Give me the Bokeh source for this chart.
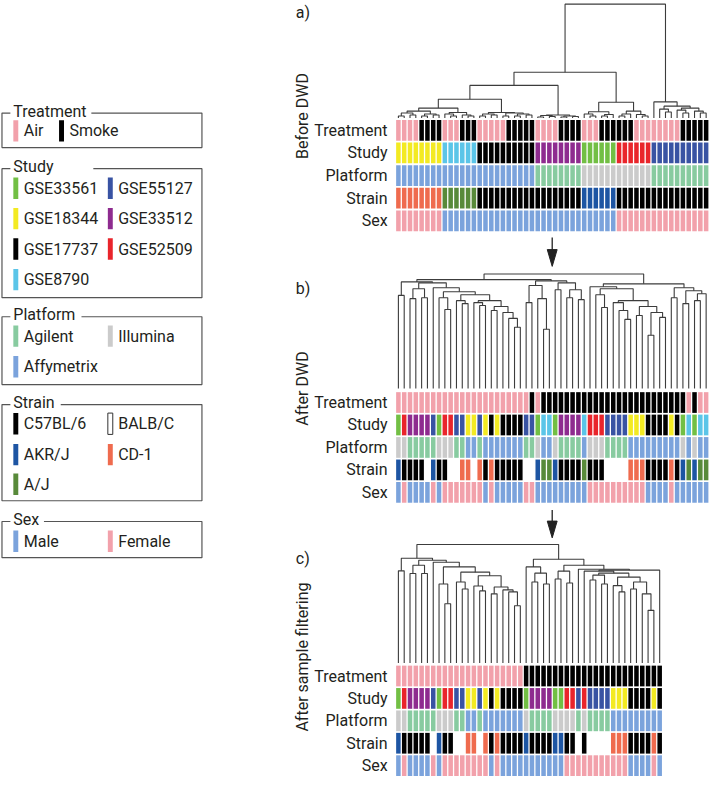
import math
from bokeh.plotting import figure
from bokeh.models import Range1d
from bokeh.embed import file_html
from bokeh.resources import INLINE
from bokeh.core.properties import value

FONT = value("Roboto")
TXT = "#231F20"
LINE = "#3C3C3C"

# ------------------------------------------------------------ categories
TREATMENT = [("A", "Air", "#F2A1AB"), ("S", "Smoke", "#000000")]
STUDY = [("G", "GSE33561", "#72BF44"), ("B", "GSE55127", "#3953A3"),
         ("Y", "GSE18344", "#F3EA22"), ("P", "GSE33512", "#8E2B8F"),
         ("K", "GSE17737", "#000000"), ("R", "GSE52509", "#E9252B"),
         ("C", "GSE8790", "#5BC5E8")]
PLATFORM = [("g", "Agilent", "#88CBA0"), ("i", "Illumina", "#CBCBCB"),
            ("f", "Affymetrix", "#7BA3DC")]
STRAIN = [("k", "C57BL/6", "#000000"), ("w", "BALB/C", "#FFFFFF"),
          ("a", "AKR/J", "#1D55A3"), ("o", "CD-1", "#EF6B4E"),
          ("j", "A/J", "#588A3A")]
SEX = [("m", "Male", "#7BA3DC"), ("f", "Female", "#F2A1AB")]

# ------------------------------------------------------------ panel a: before DWD (54 samples)
treat_a = "AAAASSSS" "AAASSS" "AAAAASSSSS" "AAAASSSS" "AAASSS" "SSSAAA" "AAAAASSSSS"
study_a = "YYYYYYYY" "CCCCCC" "KKKKKKKKKK" "PPPPPPPP" "GGGGGG" "RRRRRR" "BBBBBBBBBB"
platform_a = "ffffffff" "ffffff" "ffffffffff" "gggggggg" "iiiiii" "iiiiii" "gggggggggg"
strain_a = "oooooooo" "jjjjjj" "kkkkkkkkkk" "kkkkkkkk" "aaaaaa" "kkkkkk" "kkkkkkkkkk"
sex_a = "ffffffff" "mmmmmm" "mmmmmmmmmm" "mmmmmmmm" "mmmmmm" "ffffff" "ffffffffff"

# ------------------------------------------------------------ panel b: after DWD (54 samples)
treat_b = "AAAAAAAAAAAAAAAAAAAAAAA" "S" "A" "SSSSSSSSSSSSSSSSSSSSSSSSS" "A" "S" "AA"
study_b = "GRPPPPBGRR" "BBYYBYKYKK" "KKBBGCCGPP" "PPCRRRBBBB" "YYYKKKKYKG" "CGCC"
platform_b = "iigggggiii" "ggffgfffff" "ffggiffigg" "ggfiiigggg" "fffffffffi" "fiff"
strain_b = "akkkkwakkw" "woowokokkk" "kkwwajjakk" "kkjkkkwwww" "oookkkkoka" "jajj"
sex_b = "mfmmmmfmff" "fffffmfmmm" "mmffmmmmmm" "mmmfffffff" "fffmmmmfmm" "mmmm"

# ------------------------------------------------------------ panel c: after sample filtering (46)
treat_c = "AAAAAAAAAAAAAAAAAAAAAA" "SSSSSSSSSSSSSSSSSSSSSSSS"
study_c = "GRPPPPBGRRBBYYBYKYKKKK" "GPPPPGGRRBRBBBBYYYKKKKYK"
platform_c = "iigggggiiiggffgfffffff" "iggggiiiigigggg" "fffffffff"
strain_c = "akkkkkwakkwwoowokokkkk" "akkkkaakkwkwwwwoookkkkok"
sex_c = "mfmmmmfmffffffffmfmmmm" "mmmmmmm" "fffffffffff" "mmmm" "f" "m"

# ------------------------------------------------------------ dendrograms: [left, right, merge height]
den_yellow = [[[0, 1, 2], [2, 3, 3], 5], [[4, 5, 2], [6, 7, 3], 4], 7]
den_cyan = [[8, [9, 10, 2], 4], [11, [12, 13, 2], 3], 5.5]
den_black = [[[14, 15, 2], [16, 17, 3], 4], [[18, 19, 2], [[20, 21, 2], [22, 23, 3], 4], 5], 5.5]
den_purple = [[[24, 25, 1], [26, 27, 1.5], 2.5], [[28, 29, 1], [30, 31, 1.5], 2], 3]
den_green = [[32, [33, 34, 2], 4], [[35, 36, 2], 37, 3.5], 6.3]
den_red = [[[38, 39, 2], 40, 4], [41, [42, 43, 2], 3.5], 7]
den_blue = [44, [[45, [46, 47, 6], 9], [[48, [49, 50, 5], 8], [51, [52, 53, 5], 7], 10], 12], 16.3]
tree_a = [[[[[den_yellow, den_cyan, 10], den_black, 19], den_purple, 33],
           [den_green, den_red, 16], 46.3], den_blue, 115.3]

# panel b
b_y = [[10, [11, 12, 86], 89],
       [[13, [14, 15, 84], 87], [[16, 17, 79], [18, [19, [20, 21, 62], 71], 77], 83], 89], 95]
b_x = [[7, [8, 9, 80], 92], b_y, 98]
b_left = [[0, 1, 94.3], [[[2, 3, 91], [4, 5, 92], 101], [6, b_x, 102], 107], 108]
b_right = [[[22, 23, 87], [24, [25, 26, 60], 91], 104.3],
           [[27, 28, 100], [[29, 30, 92], [31, 32, 90], 100], 107], 109]
b_r1 = [33, [[34, [35, 36, 82], 95],
             [[37, [38, [39, 40, 70], 79], 87],
              [[41, 42, 74], [[43, 44, 54], [45, 46, 72], 77], 83], 89], 101], 103]
b_r2 = [[47, 48, 92], [[49, 50, 86], [[51, 52, 89], 53, 96], 99], 102]
tree_b = [[b_left, b_right, 110.3], [b_r1, b_r2, 106], 116]

# panel c
c_y = [[10, [11, 12, 75], 82],
       [[13, [14, 15, 73], 78], [[16, 17, 70], [18, [19, [20, 21, 58], 72], 74], 77], 88.3], 92]
c_x = [[7, [8, 9, 60], 80], c_y, 97.3]
c_left = [[0, 1, 93.3], [[[2, 3, 90.7], [4, 5, 90.7], 99], [6, c_x, 102], 104], 106]
c_ra = [22, [[23, 24, 82], [25, 26, 80], 91], 97.3]
c_z = [[[33, 34, 84], [35, 36, 80], 89],
       [[37, [38, 39, 72], 78.3], [[40, 41, 75], [42, [43, 44, 53.3], 70], 82], 87], 91]
c_rb = [[[27, 28, 85], [29, 30, 81], 93], [31, [[32, c_z, 93], 45, 94], 95], 99]
tree_c = [c_left, [c_ra, c_rb, 105], 120]

# ------------------------------------------------------------ layout constants (reference px)
X0 = 399.0          # heatmap left edge
CW = 5.88           # column pitch
CGAP = 1.3          # white gap between columns
PANELS = [
    # label, title, label y, title centre y, tree, dendro baseline, heat top, row pitch, rows
    ("a)", "Before DWD", 5, 116, tree_a, 118, 120.0, 22.9,
     [treat_a, study_a, platform_a, strain_a, sex_a]),
    ("b)", "After DWD", 285, 392, tree_b, 392, 395.7, 22.75,
     [treat_b, study_b, platform_b, strain_b, sex_b]),
    ("c)", "After sample filtering", 558, 664, tree_c, 670, 672.7, 22.7,
     [treat_c, study_c, platform_c, strain_c, sex_c]),
]
ROW_NAMES = ["Treatment", "Study", "Platform", "Strain", "Sex"]
ROW_CATS = [TREATMENT, STUDY, PLATFORM, STRAIN, SEX]
CELL_H = 21.0

p = figure(width=710, height=777, x_range=Range1d(-1, 718), y_range=Range1d(786, -1),
           output_backend="svg", toolbar_location=None, min_border=0)
p.axis.visible = False
p.xgrid.visible = False
p.ygrid.visible = False
p.outline_line_color = None


def tree_segments(tree, base):
    xs, ys = [], []

    def rec(n):
        if isinstance(n, int):
            return X0 + (n + 0.5) * CW, base
        left, right, h = n
        xl, yl = rec(left)
        xr, yr = rec(right)
        y = base - h
        xs.append([xl, xl, xr, xr])
        ys.append([yl, y, y, yr])
        return (xl + xr) / 2.0, y

    rec(tree)
    return xs, ys


for label, title, lab_y, title_y, tree, base, top0, pitch, rows in PANELS:
    xs, ys = tree_segments(tree, base)
    p.multi_line(xs, ys, line_color=LINE, line_width=1.1)
    for r, codes in enumerate(rows):
        cmap = {c: col for c, _, col in ROW_CATS[r]}
        n = len(codes)
        left = [X0 + i * CW + CGAP / 2 for i in range(n)]
        right = [X0 + (i + 1) * CW - CGAP / 2 for i in range(n)]
        t = top0 + r * pitch
        p.quad(left=left, right=right, top=[t] * n, bottom=[t + CELL_H] * n,
               fill_color=[cmap[c] for c in codes], line_color=None)
        p.text(x=[X0 - 8], y=[t + CELL_H / 2], text=[ROW_NAMES[r]], text_align="right",
               text_baseline="middle", text_font=FONT, text_font_size="16px", text_color=TXT)
    p.text(x=[298], y=[lab_y + 6], text=[label], text_align="left", text_baseline="middle",
           text_font=FONT, text_font_size="16px", text_color=TXT)
    p.text(x=[305], y=[title_y], text=[title], angle=math.pi / 2, text_align="center",
           text_baseline="middle", text_font=FONT, text_font_size="16px", text_color=TXT)

# arrows between panels
AX = 557.7
for y0, y1 in [(239, 268.3), (515, 543.3)]:
    p.segment(x0=[AX], y0=[y0], x1=[AX], y1=[y1 - 14], line_color="#222", line_width=1.3)
    p.patch(x=[AX - 5, AX + 5, AX], y=[y1 - 17, y1 - 17, y1], fill_color="#222", line_color="#222")

# ------------------------------------------------------------ legend
BOX_L, BOX_R = 0.5, 203
LEG = [
    ("Treatment", 113, 148, 91, TREATMENT, [12, 58.3], [131]),
    ("Study", 169.3, 300, 93, STUDY, [12, 107.7], [189.2, 220, 250.7, 281.7]),
    ("Platform", 319.3, 388, 81, PLATFORM, [12, 107.7], [339, 370]),
    ("Strain", 408.3, 505.7, 60, STRAIN, [12, 107.7], [427.7, 459, 489]),
    ("Sex", 526.7, 563.3, 43, SEX, [12, 107.7], [546.7]),
]
for title, top, bot, gap_end, items, colx, rowy in LEG:
    p.multi_line([[9, BOX_L, BOX_L, BOX_R, BOX_R, gap_end]],
                 [[top, top, bot, bot, top, top]], line_color="#555", line_width=1.2)
    p.text(x=[12], y=[top - 2], text=[title], text_baseline="middle", text_font=FONT,
           text_font_size="16px", text_color=TXT)
    for k, (code, name, col) in enumerate(items):
        cx = colx[k % 2]
        cy = rowy[k // 2]
        p.quad(left=[cx], right=[cx + 5], top=[cy - 10.8], bottom=[cy + 10.8],
               fill_color=col, line_color="#333" if col == "#FFFFFF" else None, line_width=1)
        p.text(x=[cx + 10.5], y=[cy], text=[name], text_baseline="middle", text_font=FONT,
               text_font_size="16px", text_color=TXT)

open("out.html", "w").write(file_html(p, INLINE))
